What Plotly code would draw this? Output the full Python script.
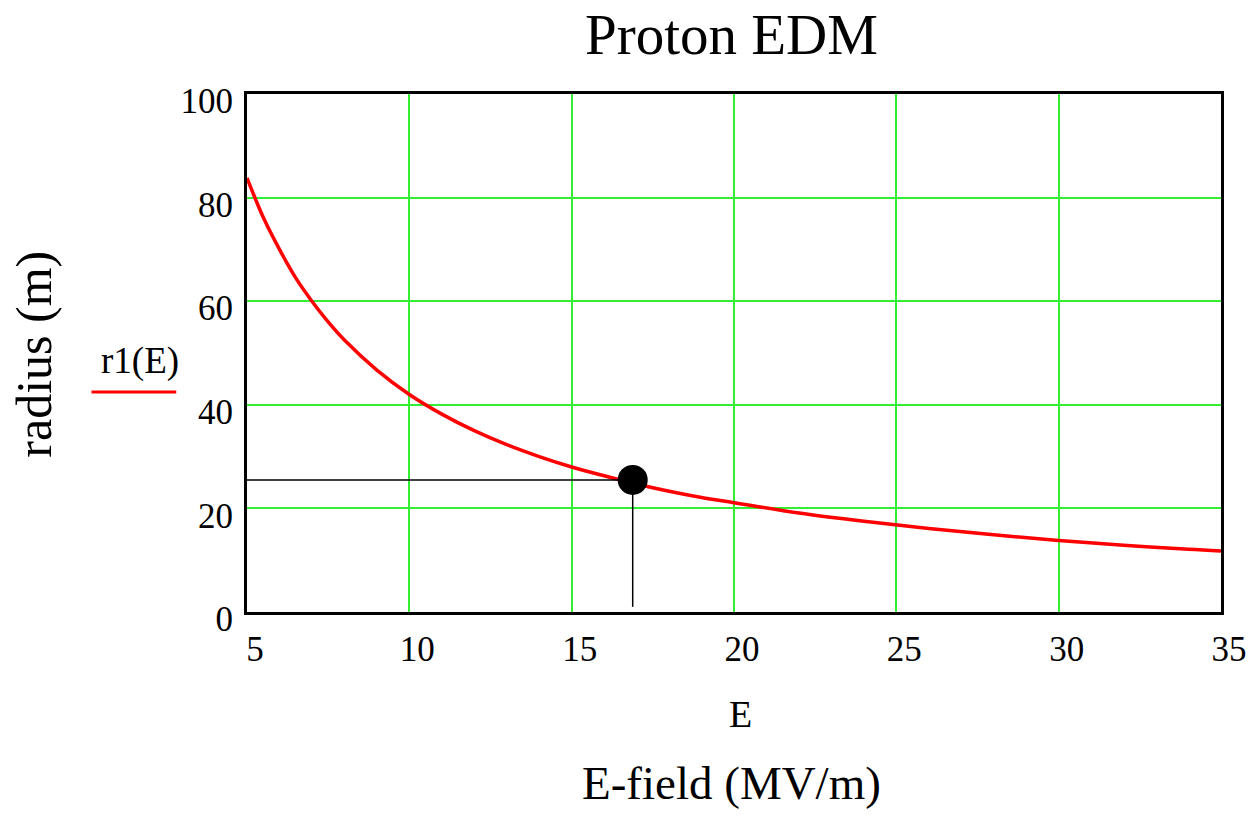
import plotly.graph_objects as go

E_vals = [5, 5.5, 6, 6.5, 7, 7.5, 8, 9, 10, 11, 12, 13, 14, 15, 16, 17, 18, 19, 20, 22, 24, 26, 28, 30, 32, 34, 35]
r_vals = [83.8, 76.2, 70.0, 64.5, 60.0, 56.0, 52.5, 46.7, 42.0, 38.2, 35.0, 32.3, 30.0, 28.0, 26.3, 24.7, 23.3, 22.1, 21.1, 19.1, 17.5, 16.1, 14.9, 13.8, 12.9, 12.1, 11.8]
marker_E = [16.88]
marker_r = [25.5]
x_ticks = [5, 10, 15, 20, 25, 30, 35]
y_ticks = [0, 20, 40, 60, 80, 100]

serif = "Liberation Serif, Times New Roman, serif"
W, H = 1259, 825
l, r, t, b = 247, 35, 94, 213
pw, ph = W - l - r, H - t - b

fig = go.Figure()
fig.add_trace(go.Scatter(x=E_vals, y=r_vals, mode="lines", line=dict(color="#ff0000", width=3.5, shape="spline"), showlegend=False))
fig.add_trace(go.Scatter(x=[5, marker_E[0]], y=[marker_r[0], marker_r[0]], mode="lines", line=dict(color="black", width=1.5), showlegend=False))
fig.add_trace(go.Scatter(x=[marker_E[0], marker_E[0]], y=[marker_r[0], 1], mode="lines", line=dict(color="black", width=1.5), showlegend=False))
fig.add_trace(go.Scatter(x=marker_E, y=marker_r, mode="markers", marker=dict(color="black", size=30), showlegend=False))

fig.update_layout(
    width=W, height=H,
    margin=dict(l=l, r=r, t=t, b=b),
    paper_bgcolor="white", plot_bgcolor="white",
    font=dict(family=serif, color="black"),
    xaxis=dict(range=[5, 35], tickvals=x_ticks, showgrid=True, gridcolor="#33ee33", gridwidth=1.6,
               showline=True, linecolor="black", linewidth=3, mirror=True, zeroline=False,
               ticks="", tickfont=dict(size=35, family=serif), ticklabelstandoff=4, ticklabelshift=8),
    yaxis=dict(range=[0, 100], tickvals=y_ticks, showgrid=True, gridcolor="#33ee33", gridwidth=1.6,
               showline=True, linecolor="black", linewidth=3, mirror=True, zeroline=False,
               ticks="", tickfont=dict(size=35, family=serif), ticklabelstandoff=4, ticklabelshift=7),
)

labels = [
    ("Proton EDM", 733, 35, 57, 0),
    ("E", 742, 714, 38, 0),
    ("E-field (MV/m)", 733, 783, 47, 0),
    ("radius (m)", 33, 354, 50, -90),
    ("r1(E)", 140, 361, 37, 0),
]
for text, px, py, size, ang in labels:
    fig.add_annotation(text=text, xref="paper", yref="paper",
                       x=(px - l) / pw, y=(H - b - py) / ph,
                       xanchor="center", yanchor="middle", showarrow=False,
                       textangle=ang, font=dict(size=size, family=serif, color="black"))

fig.add_shape(type="line", xref="paper", yref="paper",
              x0=(91 - l) / pw, x1=(176 - l) / pw,
              y0=(H - b - 392) / ph, y1=(H - b - 392) / ph,
              line=dict(color="#ff0000", width=3))

fig.write_html("out.html", config={"displayModeBar": False},
               post_script="document.body.style.margin='0px';")
